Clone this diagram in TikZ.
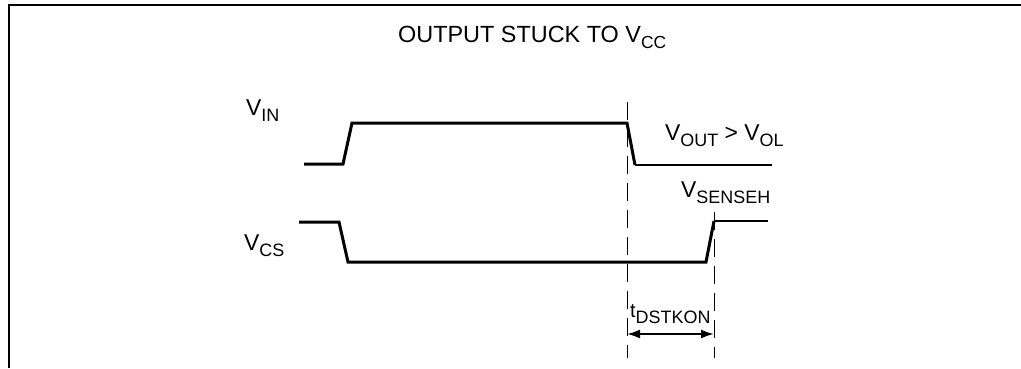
\documentclass[tikz,border=0pt]{standalone}
\usepackage{fontspec}
\setmainfont{Liberation Sans}
\usetikzlibrary{arrows.meta}
\newcommand{\lbsub}[1]{\raisebox{-6bp}{\fontsize{18}{18}\selectfont #1}}
\tikzset{
  frameline/.style={line width=2bp},
  wave/.style={line width=3bp, line join=miter},
  thinwave/.style={line width=2bp},
  guide/.style={line width=1bp, dash pattern=on 18bp off 9bp},
  lbl/.style={anchor=base west, inner sep=0pt, font=\fontsize{23}{23}\selectfont},
  dimarrow/.style={line width=2bp, {Latex[length=13bp,width=9bp]}-{Latex[length=13bp,width=9bp]}}
}
\begin{document}
\begin{tikzpicture}[x=1bp,y=-1bp]
\useasboundingbox (0,0) rectangle (1021,368);
% frame
\coordinate (fa) at (9,368);
\coordinate (fb) at (9,5);
\coordinate (fc) at (1021,5);
\draw[frameline] (fa) -- (fb) -- (fc);
% title
\node[anchor=base west, inner sep=0pt, font=\fontsize{23.5}{23.5}\selectfont] (title) at (398,42) {OUTPUT STUCK TO V\raisebox{-6bp}{\fontsize{17.5}{17.5}\selectfont CC}};
% labels
\node[lbl] (vin) at (246,115) {V\lbsub{IN}};
\node[lbl] (vcs) at (244,250) {V\lbsub{CS}};
\node[lbl] (vout) at (665,140) {V\lbsub{OUT} > V\lbsub{OL}};
\node[lbl] (vsen) at (681,197) {V\lbsub{SENSEH}};
% VIN waveform
\coordinate (i0) at (304,164);
\coordinate (i1) at (343,164);
\coordinate (i2) at (352,123);
\coordinate (i3) at (627,123);
\coordinate (i4) at (635,165);
\coordinate (i5) at (772,165);
\draw[wave] (i0) -- (i1) -- (i2) -- (i3) -- (i4);
\draw[thinwave] (i4) -- (i5);
% VCS waveform
\coordinate (c0) at (299,222);
\coordinate (c1) at (339,222);
\coordinate (c2) at (348,262);
\coordinate (c3) at (706,262);
\coordinate (c4) at (714,221);
\coordinate (c5) at (768,221);
\draw[wave] (c0) -- (c1) -- (c2) -- (c3) -- (c4);
\draw[thinwave] (c4) -- (c5);
% guides
\coordinate (g1t) at (627,102);
\coordinate (g1b) at (627,358);
\coordinate (g2t) at (714,212);
\coordinate (g2b) at (714,358);
\draw[guide] (g1t) -- (g1b);
\draw[guide] (g2t) -- (g2b);
% dimension
\coordinate (d1) at (627,334);
\coordinate (d2) at (714,334);
\draw[dimarrow] (d1) -- (d2);
\node[lbl, font=\fontsize{20}{20}\selectfont] (tdst) at (630,317) {t\raisebox{-6bp}{\fontsize{18}{18}\selectfont DSTKON}};
\end{tikzpicture}
\end{document}
